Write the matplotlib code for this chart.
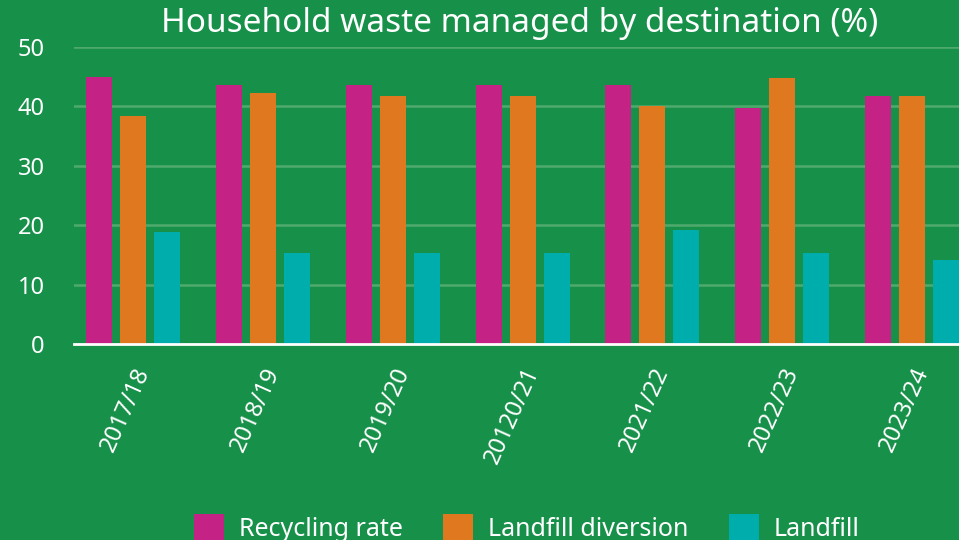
import numpy as np
import matplotlib
matplotlib.use("Agg")
import matplotlib.pyplot as plt

# data
years = ["2017/18", "2018/19", "2019/20", "20120/21", "2021/22", "2022/23", "2023/24"]
recycling = [45.0, 43.6, 43.6, 43.6, 43.6, 39.8, 41.8]
diversion = [38.4, 42.3, 41.8, 41.8, 40.0, 44.7, 41.8]
landfill = [18.9, 15.3, 15.3, 15.3, 19.2, 15.3, 14.1]
series_names = ["Recycling rate", "Landfill diversion", "Landfill"]

bg = "#17914a"
colors = ["#c42385", "#e07820", "#00adad"]

plt.rcParams["font.family"] = ["Noto Sans", "DejaVu Sans"]
plt.rcParams["font.weight"] = "medium"

fig = plt.figure(figsize=(9.59, 5.40), dpi=100, facecolor=bg)
W, H = 959, 540
ax = fig.add_axes([74 / W, (H - 344) / H, (W - 74) / W, (344 - 47) / H])
ax.set_facecolor(bg)

x = np.arange(len(years))
width = 0.2
offset = 0.262
for i, (vals, name) in enumerate(zip([recycling, diversion, landfill], series_names)):
    ax.bar(x + (i - 1) * offset, vals, width, color=colors[i], label=name, zorder=3)

ax.set_ylim(0, 50)
ax.set_xlim(-0.455, 6.362)
ax.set_yticks([0, 10, 20, 30, 40, 50])
ax.yaxis.grid(True, color="#4fa96d", linewidth=1.8, zorder=0)
ax.set_axisbelow(True)

for s in ["top", "right", "left"]:
    ax.spines[s].set_visible(False)
ax.spines["bottom"].set_color("white")
ax.spines["bottom"].set_linewidth(2)
ax.spines["bottom"].set_zorder(4)

ax.tick_params(axis="y", length=0, pad=21, labelsize=17, labelcolor="white")
ax.tick_params(axis="x", length=0, pad=14, labelsize=17, labelcolor="white")
ax.set_xticks(x)
ax.set_xticklabels(years, rotation=66, ha="right", rotation_mode="anchor")

fig.text(520 / W, 1 - 24 / H, "Household waste managed by destination (%)",
         ha="center", va="center", color="white", fontsize=24, fontweight="normal")

leg = fig.legend(loc="center", bbox_to_anchor=(527 / W, 12 / H), ncol=3,
                 frameon=False, fontsize=18, handlelength=1.2, handleheight=1.2,
                 handletextpad=0.6, columnspacing=1.6, labelcolor="white")

fig.savefig("out.png", dpi=100, facecolor=bg)
